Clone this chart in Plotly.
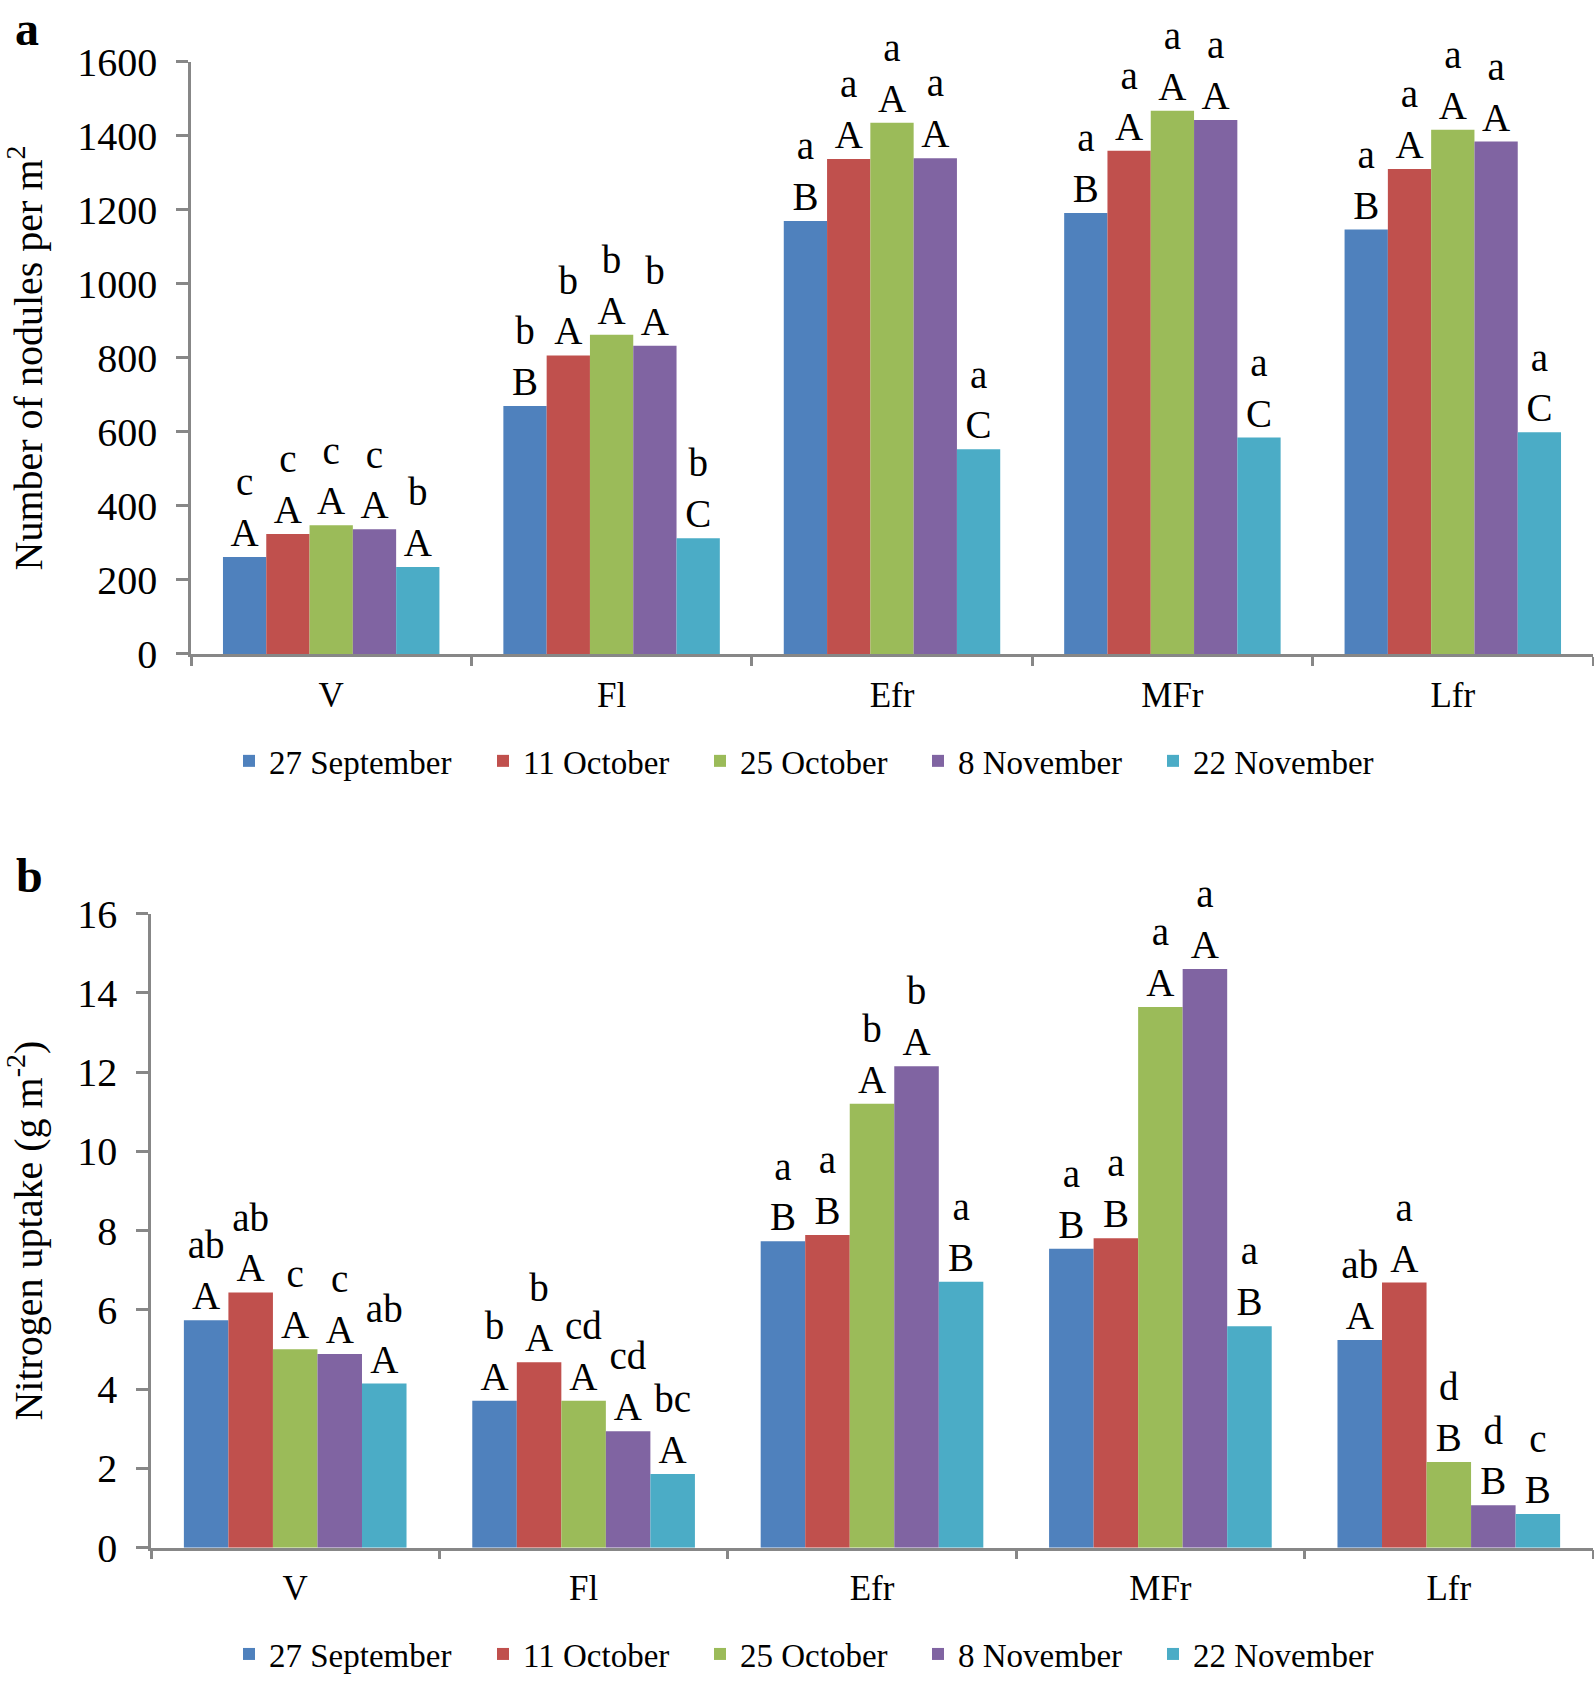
import plotly.graph_objects as go

# growth stages (categories) and sampling dates (series)
stages = ["V", "Fl", "Efr", "MFr", "Lfr"]
dates = ["27 September", "11 October", "25 October", "8 November", "22 November"]
colors = ["#4F81BD", "#C0504D", "#9BBB59", "#8064A2", "#4BACC6"]

# panel a: number of nodules per m2, one list per sowing date
nod_27sep = [262, 670, 1170, 1192, 1147]
nod_11oct = [324, 807, 1338, 1360, 1311]
nod_25oct = [348, 863, 1436, 1468, 1417]
nod_8nov = [337, 833, 1340, 1443, 1385]
nod_22nov = [235, 313, 553, 585, 599]

# significance letters (lower case over upper case) for panel a
nod_let_27sep = ["c<br>A", "b<br>B", "a<br>B", "a<br>B", "a<br>B"]
nod_let_11oct = ["c<br>A", "b<br>A", "a<br>A", "a<br>A", "a<br>A"]
nod_let_25oct = ["c<br>A", "b<br>A", "a<br>A", "a<br>A", "a<br>A"]
nod_let_8nov = ["c<br>A", "b<br>A", "a<br>A", "a<br>A", "a<br>A"]
nod_let_22nov = ["b<br>A", "b<br>C", "a<br>C", "a<br>C", "a<br>C"]

# panel b: nitrogen uptake (g m-2)
nup_27sep = [5.74, 3.71, 7.73, 7.54, 5.24]
nup_11oct = [6.44, 4.68, 7.89, 7.81, 6.69]
nup_25oct = [5.01, 3.71, 11.2, 13.64, 2.16]
nup_8nov = [4.89, 2.94, 12.15, 14.60, 1.07]
nup_22nov = [4.14, 1.86, 6.71, 5.59, 0.85]

nup_let_27sep = ["ab<br>A", "b<br>A", "a<br>B", "a<br>B", "ab<br>A"]
nup_let_11oct = ["ab<br>A", "b<br>A", "a<br>B", "a<br>B", "a<br>A"]
nup_let_25oct = ["c<br>A", "cd<br>A", "b<br>A", "a<br>A", "d<br>B"]
nup_let_8nov = ["c<br>A", "cd<br>A", "b<br>A", "a<br>A", "d<br>B"]
nup_let_22nov = ["ab<br>A", "bc<br>A", "a<br>B", "a<br>B", "c<br>B"]

nod_series = [nod_27sep, nod_11oct, nod_25oct, nod_8nov, nod_22nov]
nod_letters = [nod_let_27sep, nod_let_11oct, nod_let_25oct, nod_let_8nov, nod_let_22nov]
nup_series = [nup_27sep, nup_11oct, nup_25oct, nup_8nov, nup_22nov]
nup_letters = [nup_let_27sep, nup_let_11oct, nup_let_25oct, nup_let_8nov, nup_let_22nov]

W, H = 1594, 1682
FONT = "Liberation Serif, Times New Roman, serif"
AXC = "#878787"
leg_widths = [209, 172, 173, 190, 190]

fig = go.Figure()

for i in range(5):
    fig.add_trace(go.Bar(
        x=stages, y=nod_series[i], name=dates[i], marker_color=colors[i],
        marker_line_width=0, text=nod_letters[i], textposition="outside",
        constraintext="none", cliponaxis=False,
        outsidetextfont=dict(size=39, color="black", family=FONT),
        legend="legend", legendwidth=leg_widths[i],
        xaxis="x", yaxis="y", hoverinfo="x+y+name",
    ))

for i in range(5):
    fig.add_trace(go.Bar(
        x=stages, y=nup_series[i], name=dates[i], marker_color=colors[i],
        marker_line_width=0, text=nup_letters[i], textposition="outside",
        constraintext="none", cliponaxis=False,
        outsidetextfont=dict(size=39, color="black", family=FONT),
        legend="legend2", legendwidth=leg_widths[i],
        xaxis="x2", yaxis="y2", hoverinfo="x+y+name",
    ))

xcommon = dict(showline=True, linecolor=AXC, linewidth=2.5, ticks="outside",
               tickson="boundaries", ticklen=9, tickwidth=2.5, tickcolor=AXC,
               showgrid=False, zeroline=False, ticklabelstandoff=8,
               automargin=False,
               tickfont=dict(size=35, family=FONT, color="black"))
ycommon = dict(showline=True, linecolor=AXC, linewidth=2.5, ticks="outside",
               ticklen=12, tickwidth=2.5, tickcolor=AXC, showgrid=False,
               zeroline=False, ticklabelstandoff=11, automargin=False,
               tickfont=dict(size=40, family=FONT, color="black"))

fig.update_layout(
    width=W, height=H, margin=dict(l=0, r=0, t=0, b=0),
    paper_bgcolor="white", plot_bgcolor="white",
    font=dict(family=FONT, color="black"),
    barmode="group", bargap=0.228, bargroupgap=0,
    xaxis=dict(xcommon, domain=[191 / W, 1593 / W], anchor="y"),
    yaxis=dict(ycommon, domain=[1 - 657.5 / H, 1 - 62.3 / H], range=[0, 1600],
               dtick=200, anchor="x",
               title=dict(text="Number of nodules per m<sup>2</sup>",
                          font=dict(size=40, family=FONT), standoff=33)),
    xaxis2=dict(xcommon, domain=[151 / W, 1593 / W], anchor="y2"),
    yaxis2=dict(ycommon, domain=[1 - 1556 / H, 1 - 918.5 / H], range=[0, 16],
                dtick=2, anchor="x2",
                title=dict(text="Nitrogen uptake (g m<sup>-2</sup>)",
                           font=dict(size=40, family=FONT), standoff=33)),
    legend=dict(orientation="h", x=229 / W, xanchor="left", y=1 - 765 / H,
                yanchor="middle", font=dict(size=33, family=FONT),
                bgcolor="rgba(0,0,0,0)"),
    legend2=dict(orientation="h", x=229 / W, xanchor="left", y=1 - 1663 / H,
                 yanchor="middle", font=dict(size=33, family=FONT),
                 bgcolor="rgba(0,0,0,0)"),
)

# panel letters
fig.add_annotation(text="<b>a</b>", x=27 / W, y=1, xref="paper", yref="paper",
                   xanchor="center", yanchor="top", showarrow=False,
                   font=dict(size=48, family=FONT))
fig.add_annotation(text="<b>b</b>", x=29 / W, y=1 - 880 / H, xref="paper", yref="paper",
                   xanchor="center", yanchor="middle", showarrow=False,
                   font=dict(size=48, family=FONT))

# drop the default page margin so the figure sits at the window origin
fig.write_html("out.html", config={"displayModeBar": False},
               post_script="document.body.style.margin='0';")
